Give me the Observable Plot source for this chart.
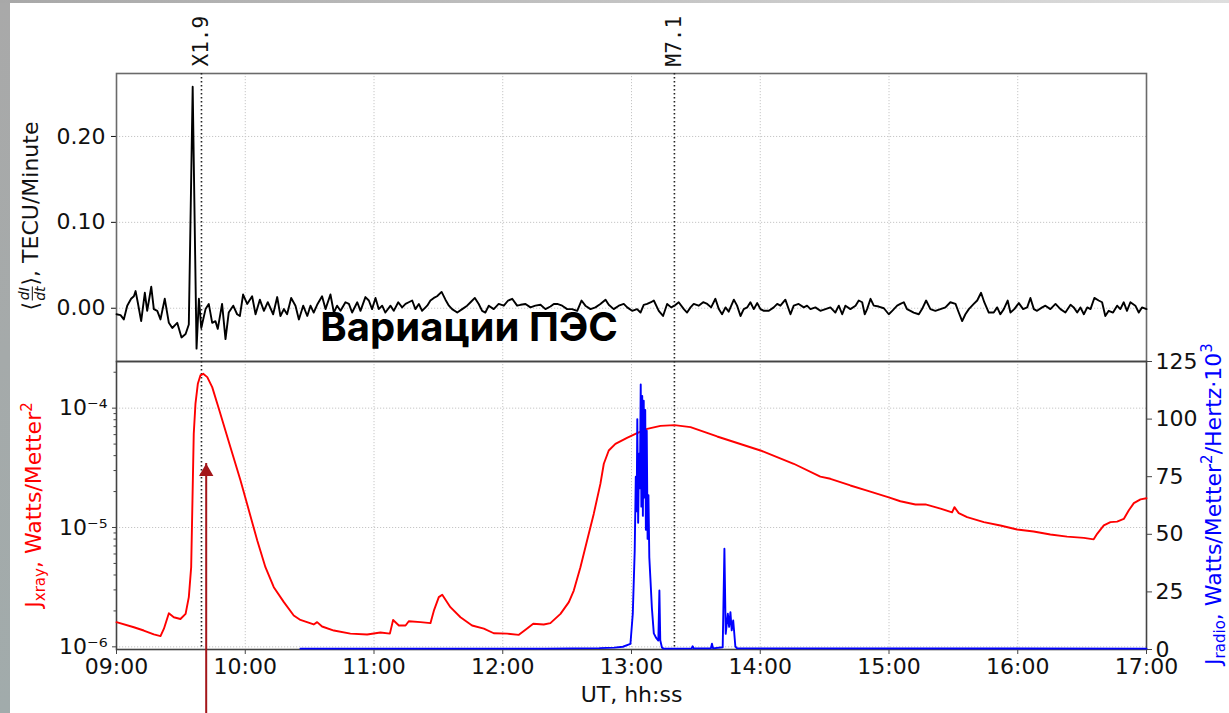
<!DOCTYPE html>
<html>
<head>
<meta charset="utf-8">
<script src="https://cdn.jsdelivr.net/npm/d3@7"></script>
<script src="https://cdn.jsdelivr.net/npm/@observablehq/plot@0.6"></script>
<style>
  html, body { margin: 0; padding: 0; background: #fff; }
  #chart { position: relative; width: 1229px; height: 713px; overflow: hidden; background: #fff; font-family: "DejaVu Sans", sans-serif; }
  #chart svg { position: absolute; left: 0; top: 0; }
  #chart g[aria-label="caption"] text { letter-spacing: 1.2px; }
  .edge-left { position: absolute; left: 0; top: 0; width: 10px; height: 713px; background: linear-gradient(#a9a9a9, #a1abab); z-index: 5; }
  .edge-top { position: absolute; left: 0; top: 0; width: 1229px; height: 3px; background: linear-gradient(90deg, #a8a8a8, #dedede); z-index: 5; }
  .ylab { position: absolute; transform: translate(-50%, -50%) rotate(-90deg); white-space: nowrap; font-size: 22px; line-height: 1; z-index: 4; }
  .ylab sub { font-size: 15px; vertical-align: -4px; line-height: 0; }
  .ylab sup { font-size: 15px; vertical-align: 9px; line-height: 0; }
  .frac { display: inline-flex; flex-direction: column; align-items: center; font-size: 14px; line-height: 1.05; vertical-align: middle; margin: 0 1px; }
  .frac i:last-child { border-top: 1px solid currentColor; }
</style>
</head>
<body>
<div id="chart">
  <div class="edge-left"></div>
  <div class="edge-top"></div>
  <div class="ylab" style="left:32px; top:216px; color:#111;">⟨<span class="frac"><i>dI</i><i>dt</i></span>⟩, TECU/Minute</div>
  <div class="ylab" style="left:34px; top:505px; color:#ff0000;">J<sub>xray</sub>, Watts/Metter<sup>2</sup></div>
  <div class="ylab" style="left:1214px; top:504px; color:#0000ff;">J<sub>radio</sub>, Watts/Metter<sup>2</sup>/Hertz·10<sup>3</sup></div>
</div>
<script>
// Time axis: minutes after 09:00 UT
const hourTicks = [0, 60, 120, 180, 240, 300, 360, 420, 480];
const hourLabels = ["09:00", "10:00", "11:00", "12:00", "13:00", "14:00", "15:00", "16:00", "17:00"];

// Flare events
const flareNames = ["X1.9", "M7.1"];
const flareMinutes = [39.6, 260];

// Upper panel: mean TEC rate of change, TECU/minute
const tecTicks = [0, 0.1, 0.2];
const tecMinutes = [
  0, 1.9, 3.4, 5.0, 6.8, 8.1, 8.9, 9.9, 11.5, 13.2,
  14.3, 16.2, 17.4, 19.0, 20.5, 22.5, 24.4, 26.0, 28.3, 30.3,
  32.2, 33.7, 35.5, 37.3, 38.4, 39.5, 41.5, 43.0, 44.6, 46.1,
  47.2, 49.2, 50.8, 52.3, 54.4, 56.2, 57.5, 59.0, 60.9, 63.2,
  64.8, 66.8, 68.7, 70.5, 73.0, 74.9, 76.4, 78.0, 79.5, 81.4,
  83.4, 85.0, 87.0, 88.9, 90.4, 91.9, 93.5, 95.8, 97.4, 99.7,
  101.3, 102.8, 104.4, 106.7, 108.3, 109.8, 112.2, 113.7, 116.0, 117.6,
  119.1, 120.7, 122.2, 123.8, 125.3, 127.7, 129.2, 131.3, 133.1, 134.7,
  136.2, 137.8, 139.3, 140.9, 142.4, 144.8, 146.3, 147.9, 149.4, 151.5,
  153.3, 154.9, 156.4, 158.8, 161.1, 163.4, 165.0, 167.0, 168.8, 170.4,
  171.9, 173.5, 175.8, 178.1, 180.5, 182.5, 184.4, 186.7, 188.3, 190.6,
  192.9, 195.2, 197.6, 199.9, 202.2, 203.8, 205.4, 207.7, 210.0, 212.3,
  214.7, 216.7, 218.5, 220.9, 223.2, 225.5, 227.9, 229.4, 231.7, 234.1,
  236.4, 238.0, 240.3, 242.6, 244.2, 245.7, 247.3, 249.1, 250.4, 252.7,
  254.7, 256.6, 258.5, 260.0, 262.0, 264.4, 265.9, 267.5, 269.0, 271.3,
  273.4, 275.3, 277.1, 279.1, 280.7, 282.2, 283.8, 285.3, 287.7, 289.2,
  290.8, 292.3, 293.9, 295.4, 297.0, 298.6, 300.1, 301.7, 304.0, 306.3,
  307.9, 309.4, 311.7, 314.1, 315.6, 317.9, 320.3, 321.8, 323.4, 325.7,
  328.0, 330.4, 332.7, 335.0, 336.6, 338.2, 339.7, 342.0, 344.4, 345.9,
  347.5, 348.7, 349.8, 351.4, 352.9, 355.2, 357.6, 359.9, 361.5, 363.8,
  365.3, 366.9, 368.4, 370.0, 371.5, 373.9, 375.4, 377.3, 379.3, 381.6,
  384.0, 386.3, 388.6, 391.0, 392.5, 394.1, 395.6, 397.2, 399.5, 401.1,
  402.9, 404.4, 406.5, 408.8, 410.4, 411.9, 413.5, 415.3, 416.6, 418.4,
  420.5, 422.5, 424.4, 425.9, 427.5, 429.0, 431.4, 432.9, 435.2, 437.6,
  439.9, 442.2, 444.6, 446.1, 447.7, 449.2, 450.8, 452.4, 453.9, 455.7,
  457.7, 459.3, 460.8, 462.4, 464.4, 466.3, 467.8, 469.4, 470.9, 472.5,
  474.8, 476.4, 477.9, 480
];
const tecValues = [
  -0.007, -0.008, -0.013, 0.003, 0.011, 0.014, 0.020, 0.007, -0.015, 0.018,
  -0.003, 0.025, -0.001, -0.003, -0.013, 0.011, -0.017, -0.023, -0.017, -0.034,
  -0.030, -0.019, 0.258, -0.047, 0.011, -0.023, -0.001, 0.005, -0.017, -0.015,
  -0.024, 0.005, -0.036, -0.005, 0.003, -0.007, -0.009, 0.016, 0.005, 0.014,
  -0.007, 0.010, -0.003, 0.007, -0.007, 0.013, -0.009, -0.001, -0.007, 0.012,
  0.003, -0.013, 0.003, -0.009, 0.003, -0.005, 0.004, 0.014, -0.001, 0.016,
  -0.005, 0.003, -0.003, 0.007, 0.005, -0.005, 0.007, -0.003, 0.013, 0.009,
  -0.001, 0.012, -0.001, 0.003, -0.005, 0.003, -0.003, 0.007, 0.001, 0.005,
  0.007, 0.009, -0.001, 0.005, -0.003, 0.003, 0.009, 0.012, 0.014, 0.019,
  0.010, 0.003, -0.001, -0.005, -0.001, 0.003, 0.007, 0.012, 0.005, -0.003,
  -0.005, 0.003, -0.001, 0.005, 0.003, 0.009, 0.011, 0.003, 0.004, 0.005,
  0.001, 0.003, 0.004, -0.001, 0.002, 0.005, 0.005, 0.003, -0.001, -0.001,
  -0.003, 0.009, 0.003, -0.001, 0.001, 0.005, 0.010, 0.004, -0.001, 0.003,
  0.005, 0.001, -0.003, -0.001, -0.005, 0.004, 0.005, 0.007, 0.009, -0.003,
  -0.009, 0.005, 0.001, 0.003, 0.007, -0.001, -0.005, 0.001, 0.005, 0.003,
  0.007, 0.005, 0.001, 0.011, -0.001, -0.007, 0.001, -0.004, 0.010, 0.003,
  -0.009, -0.001, 0.001, 0.007, -0.001, 0.006, -0.001, -0.003, -0.003, 0.001,
  0.005, 0.003, 0.010, -0.007, 0.003, 0.005, 0.001, 0.003, -0.001, 0.001,
  -0.003, -0.001, 0.001, -0.005, 0.003, -0.007, 0.003, -0.001, 0.003, 0.009,
  0.007, -0.007, -0.001, 0.011, 0.003, 0.002, 0.000, -0.007, -0.003, 0.003,
  0.005, 0.007, -0.001, -0.003, -0.005, -0.007, -0.001, 0.009, -0.001, -0.003,
  -0.001, 0.001, 0.007, 0.005, -0.005, -0.015, -0.007, -0.001, 0.005, 0.009,
  0.018, 0.007, -0.005, -0.005, 0.001, -0.007, -0.001, 0.009, -0.005, -0.001,
  0.006, -0.001, 0.001, 0.012, -0.001, -0.003, 0.001, 0.003, -0.001, 0.005,
  -0.001, -0.005, 0.004, 0.001, -0.005, 0.001, -0.007, 0.001, -0.001, 0.012,
  0.009, 0.007, -0.009, -0.003, -0.005, 0.003, -0.001, 0.007, -0.003, 0.007,
  0.003, -0.005, 0.001, -0.001
];

// Lower panel: GOES X-ray flux, W/m² (log scale)
const xrayTicks = [1e-6, 1e-5, 1e-4];
const xrayTickLabels = ["10⁻⁶", "10⁻⁵", "10⁻⁴"];
const xrayMinorTicks = [2e-6, 3e-6, 4e-6, 5e-6, 6e-6, 7e-6, 8e-6, 9e-6,
  2e-5, 3e-5, 4e-5, 5e-5, 6e-5, 7e-5, 8e-5, 9e-5, 2e-4];
const xrayMinutes = [
  0, 8.1, 12.7, 17.4, 20.5, 22.1, 24.4, 26.7, 29.8, 32.2,
  33.7, 34.8, 35.4, 36.0, 36.8, 37.9, 39.1, 40.4, 42.3, 44.6,
  47.7, 53.1, 57.8, 61.7, 65.6, 69.4, 73.3, 78.0, 82.6, 85.7,
  91.9, 93.5, 95.8, 101.3, 109.0, 116.8, 123.0, 127.4, 128.9, 131.6,
  134.7, 136.2, 141.7, 146.3, 147.9, 150.2, 151.8, 155.6, 160.3, 165.7,
  171.2, 175.8, 182.1, 187.5, 190.6, 194.2, 199.1, 202.2, 206.9, 210.8,
  213.1, 216.2, 219.3, 222.4, 225.5, 227.1, 229.4, 232.5, 237.9, 242.6,
  247.3, 253.5, 260.0, 267.5, 279.9, 300.1, 315.6, 328.0, 332.7, 342.0,
  349.8, 359.9, 365.3, 372.3, 377.0, 384.0, 389.4, 390.5, 392.5, 396.4,
  404.2, 411.9, 419.7, 427.4, 435.2, 443.0, 450.8, 455.4, 457.0, 460.1,
  463.2, 466.3, 469.4, 471.7, 474.1, 477.2, 480
];
const xrayValues = [
  1.61e-6, 1.46e-6, 1.37e-6, 1.27e-6, 1.23e-6, 1.42e-6, 1.91e-6, 1.77e-6, 1.71e-6, 1.89e-6,
  2.61e-6, 4.65e-6, 1.68e-5, 6.10e-5, 1.09e-4, 1.60e-4, 1.88e-4, 1.94e-4, 1.82e-4, 1.50e-4,
  9.89e-5, 4.71e-5, 2.48e-5, 1.39e-5, 7.78e-6, 4.65e-6, 3.16e-6, 2.37e-6, 1.83e-6, 1.68e-6,
  1.54e-6, 1.61e-6, 1.48e-6, 1.37e-6, 1.29e-6, 1.27e-6, 1.32e-6, 1.29e-6, 1.68e-6, 1.51e-6,
  1.51e-6, 1.64e-6, 1.61e-6, 1.58e-6, 2.01e-6, 2.61e-6, 2.73e-6, 2.15e-6, 1.77e-6, 1.51e-6,
  1.42e-6, 1.30e-6, 1.29e-6, 1.26e-6, 1.39e-6, 1.56e-6, 1.54e-6, 1.58e-6, 1.89e-6, 2.37e-6,
  2.96e-6, 4.65e-6, 7.78e-6, 1.30e-5, 2.32e-5, 3.42e-5, 4.42e-5, 5.02e-5, 5.64e-5, 6.17e-5,
  6.71e-5, 7.11e-5, 7.21e-5, 6.93e-5, 5.79e-5, 4.42e-5, 3.42e-5, 2.67e-5, 2.56e-5, 2.25e-5,
  2.04e-5, 1.79e-5, 1.66e-5, 1.56e-5, 1.56e-5, 1.44e-5, 1.34e-5, 1.48e-5, 1.32e-5, 1.22e-5,
  1.11e-5, 1.04e-5, 9.62e-6, 9.25e-6, 8.73e-6, 8.39e-6, 8.18e-6, 7.96e-6, 8.85e-6, 1.04e-5,
  1.11e-5, 1.12e-5, 1.18e-5, 1.39e-5, 1.60e-5, 1.72e-5, 1.76e-5
];

// Lower panel, right axis: radio flux, W/m²/Hz ×10³
const radioTicks = [0, 25, 50, 75, 100, 125];
const radioMinutes = [
  85.7, 150, 200, 225, 232, 236, 239.5, 240.6, 241.5, 242.0,
  242.4, 242.7, 243.1, 243.5, 243.9, 244.3, 244.6, 245.0, 245.3, 245.7,
  246.0, 246.4, 246.7, 247.1, 247.5, 247.9, 248.3, 248.8, 249.5, 250.4,
  251.5, 252.5, 253.0, 253.4, 254.2, 255.0, 268.0, 268.5, 269.0, 277.0,
  277.5, 278.0, 282.5, 283.3, 283.9, 284.5, 284.9, 285.5, 286.1, 286.7,
  287.4, 288.4, 289.2, 480
];
const radioValues = [
  0.4, 0.4, 0.4, 0.6, 0.8, 1.2, 2.4, 15.5, 43, 75,
  60, 100, 55, 85, 70, 115, 62, 110, 58, 108,
  66, 104, 52, 95, 48, 67, 40, 31, 18, 7,
  5, 3.9, 25.6, 4, 0.8, 0.4, 0.5, 1.4, 0.5, 0.5,
  2.5, 0.5, 1.0, 43.7, 6.8, 12, 15.5, 9.8, 16.2, 8.3,
  12.6, 1.3, 0.5, 0.4
];

// Annotation: TEC variations caption and the pointer to the X1.9 flare response
const annotationText = "Вариации ПЭС";
const annotationMinute = 95;
const annotationValue = -0.0376;
const arrowMinute = 41.8;
const arrowTipValue = 3.44e-5;
const arrowFootValue = 2.5e-7;

const W = 1229, H = 713;
const gridStyle = {stroke: "#c6c6c6", strokeOpacity: 1, strokeWidth: 1, strokeDasharray: "1.2,1.8"};
const flareRule = {stroke: "#222", strokeWidth: 1.6, strokeDasharray: "1.6,2.4"};
const svgStyle = {background: "transparent", fontFamily: "'DejaVu Sans', sans-serif", fontSize: "22px", color: "#111"};
const common = {width: W, height: H, marginLeft: 116, marginRight: 83, style: svgStyle};

// Upper panel: TEC derivative with flare markers and caption
const topPanel = Plot.plot({
  ...common,
  marginTop: 73,
  marginBottom: 352,
  x: {domain: [0, 480], axis: null},
  y: {domain: [-0.062, 0.2733]},
  marks: [
    Plot.gridX(hourTicks.slice(1, -1), gridStyle),
    Plot.gridY(tecTicks, gridStyle),
    Plot.axisY(tecTicks, {tickFormat: d3.format(".2f"), tickSize: 5, tickPadding: 6, label: null}),
    Plot.frame({stroke: "#6a6a6a", strokeWidth: 1.6}),
    Plot.ruleX(flareMinutes, flareRule),
    Plot.text(flareNames, {x: flareMinutes, frameAnchor: "top", rotate: -90, textAnchor: "start", lineAnchor: "middle", dy: -7, fontFamily: "'DejaVu Sans Mono', monospace", fontSize: 21, fill: "#111"}),
    Plot.line(tecValues, {x: tecMinutes, y: (d) => d, stroke: "#000", strokeWidth: 1.9}),
    Plot.text([annotationText], {x: annotationMinute, y: annotationValue, textAnchor: "start", lineAnchor: "bottom", fontFamily: "Inter, Lato, sans-serif", fontWeight: 700, fontSize: 40, fill: "#000", ariaLabel: "caption"})
  ]
});

// Lower panel: X-ray flux on a log scale, with the pointer arrow
const xrayPanel = Plot.plot({
  ...common,
  marginTop: 361,
  marginBottom: 64,
  x: {domain: [0, 480]},
  y: {type: "log", domain: [9.5e-7, 2.46e-4]},
  marks: [
    Plot.gridX(hourTicks.slice(1, -1), gridStyle),
    Plot.gridY(xrayTicks, gridStyle),
    Plot.axisY(xrayMinorTicks, {tickSize: 2.5, tickFormat: () => "", label: null, stroke: "#444"}),
    Plot.axisY(xrayTicks, {tickSize: 4, tickFormat: () => "", label: null, stroke: "#444"}),
    Plot.text(xrayTicks, {y: (d) => d, text: (d, i) => xrayTickLabels[i], frameAnchor: "left", textAnchor: "end", dx: -9, fill: "#111"}),
    Plot.axisX(hourTicks, {tickSize: 5, tickPadding: 4, tickFormat: (d, i) => hourLabels[i], label: null, stroke: "#444"}),
    Plot.text(["UT, hh:ss"], {frameAnchor: "bottom", lineAnchor: "bottom", dy: 52, fill: "#111"}),
    Plot.frame({stroke: "#444", strokeWidth: 1.6}),
    Plot.ruleX(flareMinutes, flareRule),
    Plot.line(xrayValues, {x: xrayMinutes, y: (d) => d, stroke: "#ff0000", strokeWidth: 1.9}),
    Plot.ruleX([arrowMinute], {y1: arrowFootValue, y2: arrowTipValue, insetTop: 10, stroke: "#a3161a", strokeWidth: 2}),
    Plot.dot([arrowMinute], {x: (d) => d, y: arrowTipValue, dy: 8.3, symbol: "triangle", r: 5.35, fill: "#a3161a", stroke: "none"})
  ]
});

// Lower panel, right axis: radio flux on a linear scale
const radioPanel = Plot.plot({
  ...common,
  marginTop: 361,
  marginBottom: 64,
  x: {domain: [0, 480], axis: null},
  y: {domain: [0, 125]},
  marks: [
    Plot.axisY(radioTicks, {anchor: "right", tickSize: 5, tickPadding: 4, label: null, stroke: "#444"}),
    Plot.line(radioValues, {x: radioMinutes, y: (d) => d, stroke: "#0000ff", strokeWidth: 1.9})
  ]
});

const chart = document.getElementById("chart");
chart.append(topPanel, xrayPanel, radioPanel);
</script>
</body>
</html>
